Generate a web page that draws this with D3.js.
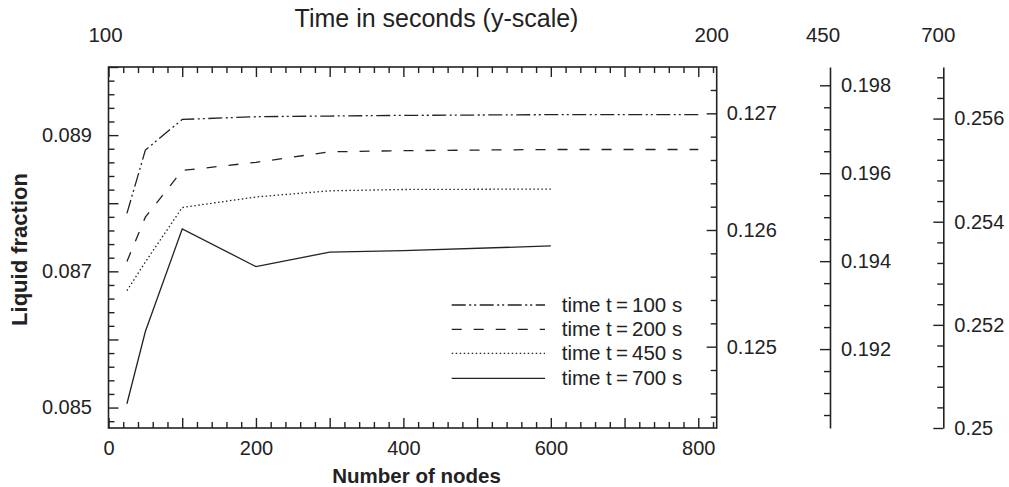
<!DOCTYPE html>
<html>
<head>
<meta charset="utf-8">
<script src="https://cdn.jsdelivr.net/npm/d3@7"></script>
<style>
  html, body { margin: 0; padding: 0; background: #fff; }
  svg { display: block; font-family: "Liberation Sans", Arial, Helvetica, sans-serif; }
  text { fill: #222; }
</style>
</head>
<body>
<svg id="chart" width="1009" height="487"></svg>
<script>
// ---------------- data ----------------
const nodes = [25, 50, 100, 200, 300, 400, 600, 800];
const t100 = [0.08785, 0.08878, 0.08923, 0.08927, 0.08928, 0.08929, 0.08930, 0.08930];
const t200 = [0.12573, 0.12611, 0.12651, 0.12658, 0.12667, 0.12668, 0.12669, 0.12669];
const t450 = [0.19333, 0.19398, 0.19522, 0.19546, 0.19560, 0.19563, 0.19564];
const t700 = [0.25047, 0.25187, 0.25386, 0.25313, 0.25341, 0.25344, 0.25353];

const seriesNames = ["time t\u2009=\u2009100 s", "time t\u2009=\u2009200 s", "time t\u2009=\u2009450 s", "time t\u2009=\u2009700 s"];
const timeLabels = ["100", "200", "450", "700"];

const xMajorTicks = [0, 100, 200, 300, 400, 500, 600, 700, 800];
const xLabelTicks = [0, 200, 400, 600, 800];
const y100Major = [0.085, 0.086, 0.087, 0.088, 0.089, 0.090];
const y100Labels = [0.085, 0.087, 0.089];
const y200Major = [0.125, 0.126, 0.127];
const y450Major = [0.192, 0.194, 0.196, 0.198];
const y700Major = [0.25, 0.252, 0.254, 0.256];

// ---------------- layout ----------------
const svg = d3.select("#chart");
const L = 108.5, R = 716.7, T = 67, B = 428;
const ax450 = 830, ax700 = 943.3;
const ink = "#222";
const fmt = d => String(+d.toFixed(4));
const steps = (a, b, s) => d3.range(Math.round((b - a) / s) + 1).map(i => +(a + i * s).toFixed(6));
const notIn = arr => v => !arr.some(m => Math.abs(m - v) < 1e-9);

const x = d3.scaleLinear().domain([0, 825]).range([L, R]);
const y100 = d3.scaleLinear().domain([0.0847, 0.0900]).range([B, T]);
const y200 = d3.scaleLinear().domain([0.124303, 0.127397]).range([B, T]);
const y450 = d3.scaleLinear().domain([0.190205, 0.198416]).range([B, T]);
const y700 = d3.scaleLinear().domain([0.25, 0.257]).range([B, T]);

function styleAxis(g, fontSize) {
  g.selectAll("line").attr("stroke", ink).attr("stroke-width", 1.4);
  g.selectAll("path.domain").attr("stroke", ink).attr("stroke-width", 1.6);
  g.selectAll("text").attr("fill", ink).style("font-size", fontSize + "px").style("font-family", '"Liberation Sans", Arial, sans-serif');
}

// bottom axis
const xMinor = steps(0, 820, 20).filter(notIn(xMajorTicks));
let g = svg.append("g").attr("transform", `translate(0,${B})`)
  .call(d3.axisBottom(x).tickValues(xMajorTicks).tickSize(-10).tickPadding(13)
    .tickFormat(d => xLabelTicks.includes(d) ? d : ""));
g.select(".domain").remove(); styleAxis(g, 20);
g = svg.append("g").attr("transform", `translate(0,${B})`)
  .call(d3.axisBottom(x).tickValues(xMinor).tickSize(-6).tickFormat(""));
g.select(".domain").remove(); styleAxis(g, 20);
// top axis
g = svg.append("g").attr("transform", `translate(0,${T})`)
  .call(d3.axisTop(x).tickValues(xMajorTicks).tickSize(-10).tickFormat(""));
g.select(".domain").remove(); styleAxis(g, 20);
g = svg.append("g").attr("transform", `translate(0,${T})`)
  .call(d3.axisTop(x).tickValues(xMinor).tickSize(-6).tickFormat(""));
g.select(".domain").remove(); styleAxis(g, 20);

// left axis (t = 100 s)
g = svg.append("g").attr("transform", `translate(${L},0)`)
  .call(d3.axisLeft(y100).tickValues(y100Major).tickSize(-10).tickPadding(16.5)
    .tickFormat(d => y100Labels.some(v => Math.abs(v - d) < 1e-9) ? d3.format(".3f")(d) : ""));
g.select(".domain").remove(); styleAxis(g, 20);
g = svg.append("g").attr("transform", `translate(${L},0)`)
  .call(d3.axisLeft(y100).tickValues(steps(0.0848, 0.0900, 0.0002).filter(notIn(y100Major))).tickSize(-6).tickFormat(""));
g.select(".domain").remove(); styleAxis(g, 20);

// right frame axis (t = 200 s)
g = svg.append("g").attr("transform", `translate(${R},0)`)
  .call(d3.axisRight(y200).tickValues(y200Major).tickSize(-10).tickPadding(10).tickFormat(fmt));
g.select(".domain").remove(); styleAxis(g, 20);
g = svg.append("g").attr("transform", `translate(${R},0)`)
  .call(d3.axisRight(y200).tickValues(steps(0.1244, 0.1272, 0.0002).filter(notIn(y200Major))).tickSize(-6).tickFormat(""));
g.select(".domain").remove(); styleAxis(g, 20);

// t = 450 s axis
g = svg.append("g").attr("transform", `translate(${ax450},0)`)
  .call(d3.axisRight(y450).tickValues(y450Major).tickSize(-10).tickSizeOuter(0).tickPadding(11).tickFormat(fmt));
styleAxis(g, 20);
g = svg.append("g").attr("transform", `translate(${ax450},0)`)
  .call(d3.axisRight(y450).tickValues(steps(0.1905, 0.198, 0.0005).filter(notIn(y450Major))).tickSize(-6).tickFormat(""));
g.select(".domain").remove(); styleAxis(g, 20);

// t = 700 s axis
g = svg.append("g").attr("transform", `translate(${ax700},0)`)
  .call(d3.axisRight(y700).tickValues(y700Major).tickSize(-10).tickSizeOuter(0).tickPadding(11).tickFormat(fmt));
styleAxis(g, 20);
g = svg.append("g").attr("transform", `translate(${ax700},0)`)
  .call(d3.axisRight(y700).tickValues(steps(0.2504, 0.2568, 0.0004).filter(notIn(y700Major))).tickSize(-6).tickFormat(""));
g.select(".domain").remove(); styleAxis(g, 20);

// frame
svg.append("rect").attr("x", L).attr("y", T).attr("width", R - L).attr("height", B - T)
  .attr("fill", "none").attr("stroke", ink).attr("stroke-width", 1.6);

// series
const series = [
  { vals: t100, y: y100, dash: "14,3.5,2,3,2,3.5" },
  { vals: t200, y: y200, dash: "10,12" },
  { vals: t450, y: y450, dash: "1.5,2.5" },
  { vals: t700, y: y700, dash: null }
];
series.forEach(s => {
  const pts = s.vals.map((v, i) => [nodes[i], v]);
  svg.append("path")
    .attr("d", d3.line().x(d => x(d[0])).y(d => s.y(d[1]))(pts))
    .attr("fill", "none").attr("stroke", ink).attr("stroke-width", 1.3)
    .attr("stroke-dasharray", s.dash);
});

// legend
const legY = [305, 329.3, 353.3, 378.3];
series.forEach((s, i) => {
  svg.append("line").attr("x1", 451.7).attr("x2", 545).attr("y1", legY[i]).attr("y2", legY[i])
    .attr("stroke", ink).attr("stroke-width", 1.3).attr("stroke-dasharray", s.dash);
  svg.append("text").attr("x", 561.7).attr("y", legY[i]).attr("dy", "0.35em")
    .style("font-size", "20.5px").text(seriesNames[i]);
});

// axis titles
svg.append("text").attr("x", (L + R) / 2 + 4).attr("y", 483)
  .attr("text-anchor", "middle").style("font-size", "20.5px").style("font-weight", "bold")
  .text("Number of nodes");
svg.append("text").attr("transform", `translate(27,${(T + B) / 2 + 2}) rotate(-90)`)
  .attr("text-anchor", "middle").style("font-size", "22px").style("font-weight", "bold")
  .text("Liquid fraction");

// top labels
svg.append("text").attr("x", 436.5).attr("y", 27).attr("text-anchor", "middle")
  .style("font-size", "25px").text("Time in seconds (y-scale)");
const topX = [L - 3, R - 5, ax450 - 7, ax700 - 5];
timeLabels.forEach((t, i) => {
  svg.append("text").attr("x", topX[i]).attr("y", 42).attr("text-anchor", "middle")
    .style("font-size", "20.5px").text(t);
});
</script>
</body>
</html>
